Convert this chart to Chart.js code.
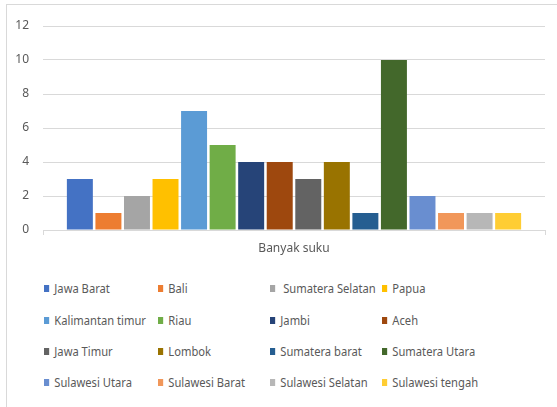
<!DOCTYPE html>
<html>
<head>
<meta charset="utf-8">
<script src="https://cdn.jsdelivr.net/npm/chart.js@4"></script>
<style>
    body { margin: 0; width: 557px; height: 407px; overflow: hidden; background: #fff; font-family: "Noto Sans", sans-serif; }
    #frame { position: absolute; left: 6px; top: 4px; width: 600px; height: 500px; border-left: 1px solid #d9d9d9; border-top: 1px solid #d9d9d9; }
    #wrap { position: absolute; left: 0; top: 0; width: 557px; height: 262px; }
    #legend { position: absolute; left: 44px; top: 280px; width: 500px; }
    .item { position: absolute; font-size: 13px; color: #595959; white-space: nowrap; line-height: 16px; transform: scaleX(0.86); transform-origin: left center; }
    .item i { display: inline-block; width: 6px; height: 7px; margin-right: 6px; vertical-align: 1px; }
</style>
</head>
<body>
<div id="frame"></div>
<div id="wrap"><canvas id="bar-chart"></canvas></div>
<div id="legend"></div>
<script>
let categories = ['Banyak suku'];
let suku = ['Jawa Barat', 'Bali', 'Sumatera Selatan', 'Papua',
    'Kalimantan timur', 'Riau', 'Jambi', 'Aceh',
    'Jawa Timur', 'Lombok', 'Sumatera barat', 'Sumatera Utara',
    'Sulawesi Utara', 'Sulawesi Barat', 'Sulawesi Selatan', 'Sulawesi tengah'];
let jumlah = [3, 1, 2, 3, 7, 5, 4, 4, 3, 4, 1, 10, 2, 1, 1, 1];
let warna = ['#4472C4', '#ED7D31', '#A5A5A5', '#FFC000',
    '#5B9BD5', '#70AD47', '#264478', '#9E480E',
    '#636363', '#997300', '#255E91', '#43682B',
    '#698ED0', '#F1975A', '#B7B7B7', '#FFCD33'];
let yTicks = [0, 2, 4, 6, 8, 10, 12];

let datasets = [];
for (let i = 0; i < suku.length; i++) {
    datasets.push({
        label: suku[i],
        data: [jumlah[i]],
        backgroundColor: warna[i],
        barPercentage: 0.91,
        categoryPercentage: 0.91
    });
}

// legend as a 4 column grid, like the office chart
let legendDiv = document.getElementById('legend');
let colX = [0, 114, 226, 338];
let rowY = [0, 32, 63, 94];
for (let i = 0; i < suku.length; i++) {
    let el = document.createElement('div');
    el.className = 'item';
    el.style.left = colX[i % 4] + 'px';
    el.style.top = rowY[Math.floor(i / 4)] + 'px';
    el.innerHTML = `<i style="background:${warna[i]}"></i>${suku[i] === 'Sumatera Selatan' ? '&nbsp;' : ''}${suku[i]}`;
    legendDiv.appendChild(el);
}

let ctx = document.getElementById('bar-chart');
var chart = new Chart(ctx, {
    type: 'bar',
    data: {
        labels: categories,
        datasets: datasets
    },
    options: {
        responsive: true,
        maintainAspectRatio: false,
        animation: false,
        layout: { padding: { left: 0, right: 12, top: 26, bottom: 0 } },
        plugins: {
            legend: { display: false },
            tooltip: { enabled: false }
        },
        scales: {
            x: {
                grid: { drawOnChartArea: false, tickLength: 5, color: '#d9d9d9' },
                border: { color: '#d9d9d9' },
                ticks: { color: '#595959', font: { family: 'Noto Sans', size: 12 }, padding: 6 },
                afterFit: (scale) => { scale.height = 32; }
            },
            y: {
                min: 0,
                max: 12,
                afterBuildTicks: (scale) => { scale.ticks = yTicks.map(v => ({ value: v })); },
                grid: { color: '#d9d9d9', drawTicks: false },
                border: { display: false },
                ticks: { color: '#595959', font: { family: 'Noto Sans', size: 12 }, padding: 14 },
                afterFit: (scale) => { scale.width = 43; }
            }
        }
    }
});
</script>
</body>
</html>
